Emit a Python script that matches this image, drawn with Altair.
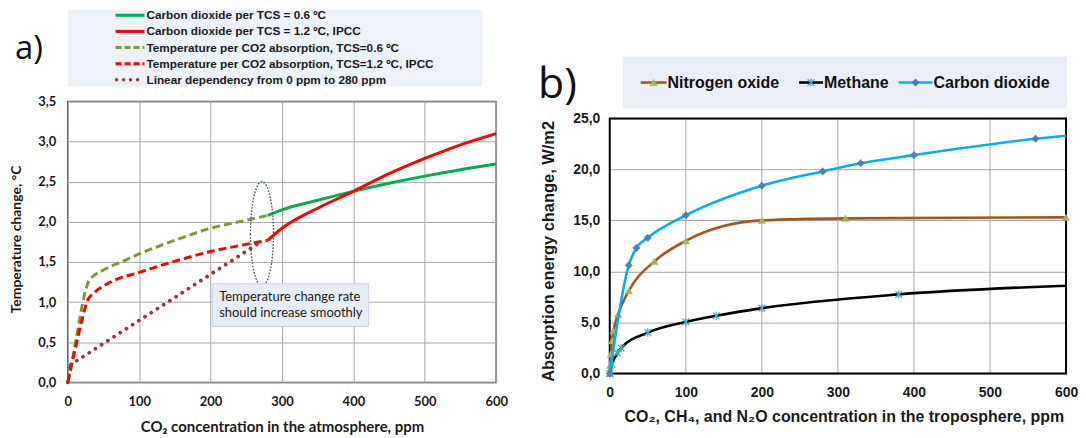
import altair as alt
import pandas as pd

# ---------------- panel a) data ----------------
a_green_dash_x = [0, 10, 20, 25, 30, 50, 75, 100, 150, 200, 250, 280]
a_green_dash_y = [0, 0.45, 0.95, 1.15, 1.27, 1.40, 1.50, 1.60, 1.77, 1.92, 2.02, 2.08]
a_red_dash_x = [0, 10, 20, 28, 35, 60, 100, 150, 200, 250, 280]
a_red_dash_y = [0, 0.40, 0.78, 1.03, 1.10, 1.25, 1.37, 1.51, 1.63, 1.72, 1.77]
a_green_x = [280, 300, 350, 400, 450, 500, 550, 600]
a_green_y = [2.08, 2.15, 2.27, 2.38, 2.48, 2.57, 2.65, 2.72]
a_red_x = [280, 300, 350, 400, 450, 500, 550, 600]
a_red_y = [1.77, 1.92, 2.17, 2.38, 2.60, 2.79, 2.96, 3.10]
a_lin_x = [0, 4, 272]
a_lin_y = [0, 0.22, 1.76]
a_legend_labels = [
    "Carbon dioxide per TCS = 0.6 ºC",
    "Carbon dioxide per TCS = 1.2 ºC, IPCC",
    "Temperature per CO2 absorption, TCS=0.6 ºC",
    "Temperature per CO2 absorption, TCS=1.2 ºC, IPCC",
    "Linear dependency from 0 ppm to 280 ppm",
]
a_note_lines = ["Temperature change rate", "should increase smoothly"]
a_ellipse_x = [272]
a_ellipse_y = [1.85]
a_x_ticks = [0, 100, 200, 300, 400, 500, 600]
a_y_ticks = [0, 0.5, 1.0, 1.5, 2.0, 2.5, 3.0, 3.5]

# ---------------- panel b) data ----------------
n2o_x = [0, 0.5, 1.5, 3, 5, 11, 25, 59, 100, 200, 310, 600]
n2o_y = [0, 0.8, 1.9, 3.2, 4.2, 5.8, 8.1, 11.0, 13.0, 15.0, 15.2, 15.3]
n2o_marker = [True] * 12
ch4_x = [0, 3, 10, 15, 50, 100, 140, 200, 380, 600]
ch4_y = [0, 0.9, 2.0, 2.5, 4.0, 5.05, 5.65, 6.4, 7.75, 8.6]
ch4_marker = [True] * 9 + [False]
co2_x = [0, 25, 35, 50, 100, 200, 280, 330, 400, 560, 600]
co2_y = [0, 10.6, 12.3, 13.3, 15.5, 18.4, 19.8, 20.6, 21.4, 23.0, 23.3]
co2_marker = [True] * 10 + [False]
b_legend_labels = ["Nitrogen oxide", "Methane", "Carbon dioxide"]
b_x_ticks = [0, 100, 200, 300, 400, 500, 600]
b_y_ticks = [0, 5, 10, 15, 20, 25]
b_y_top = 25

FA = "Lato"
FB = "Liberation Sans"
W1, H1 = 430, 282
W2, H2 = 458, 273          # plot-area; visible frame of b) spans its lowest 256 px
B_FRAME = 256
B_YMAX = b_y_top * H2 / B_FRAME
ONE = alt.Data(values=[{}])
comma = "replace(format(datum.value, '.1f'), '.', ',')"


def frame(xs, ys, flags=None):
    d = pd.DataFrame({"x": xs, "y": ys})
    if flags is not None:
        d = d[pd.Series(flags).values]
    return d


# ---------------- panel a ----------------
ax_x = alt.X("x:Q", scale=alt.Scale(domain=[0, 600], nice=False, zero=False),
             axis=alt.Axis(values=a_x_ticks, grid=True, gridColor="#A6A6A6", gridWidth=1,
                           domain=False, ticks=False, labelFlush=False,
                           labelFont=FA, labelFontSize=13, labelFontWeight="bold",
                           labelColor="#1a1a1a", labelPadding=13,
                           title="CO₂ concentration in the atmosphere, ppm",
                           titleFont=FA, titleFontSize=15, titleFontWeight="bold",
                           titleColor="#1a1a1a", titleY=44, titleBaseline="middle"))
ax_y = alt.Y("y:Q", scale=alt.Scale(domain=[0, 3.5], nice=False, zero=False),
             axis=alt.Axis(values=a_y_ticks, grid=True, gridColor="#A6A6A6", gridWidth=1,
                           domain=False, ticks=False, labelFlush=False, labelExpr=comma,
                           labelFont=FA, labelFontSize=13, labelFontWeight="bold",
                           labelColor="#1a1a1a", labelPadding=12,
                           title="Temperature change, °C",
                           titleFont=FA, titleFontSize=14, titleFontWeight="bold",
                           titleColor="#1a1a1a", titleX=-51, titleY=H1 / 2 - 3,
                           titleBaseline="middle"))


def aline(xs, ys, color, dash=None, width=3, cap="butt"):
    kw = dict(color=color, strokeWidth=width, interpolate="monotone", strokeCap=cap, clip=False)
    if dash:
        kw["strokeDash"] = dash
    return alt.Chart(frame(xs, ys)).mark_line(**kw).encode(x=ax_x, y=ax_y)


a_styles = [
    dict(color="#00B050", dash=None, width=3, cap="butt"),
    dict(color="#FF0000", dash=None, width=3, cap="butt"),
    dict(color="#7A9A3A", dash=[8, 4], width=3, cap="butt"),
    dict(color="#FF0000", dash=[8, 4], width=3, cap="butt"),
    dict(color="#953735", dash=[0.01, 7.4], width=3.8, cap="round"),
]

a_layers = []
# anchors (invisible) fixing panel bounds
a_layers.append(alt.Chart(ONE).mark_rect(opacity=0).encode(
    x=alt.value(-59), x2=alt.value(-58), y=alt.value(-92), y2=alt.value(-91)))
a_layers.append(alt.Chart(ONE).mark_rect(opacity=0).encode(
    x=alt.value(W1 + 13), x2=alt.value(W1 + 14), y=alt.value(0), y2=alt.value(1)))

a_layers.append(aline(a_green_dash_x, a_green_dash_y, **a_styles[2]))
a_layers.append(aline(a_red_dash_x, a_red_dash_y, **a_styles[3]))

# dotted linear dependency drawn as straight segments between its points
lin = pd.DataFrame({"x": a_lin_x[:-1], "y": a_lin_y[:-1],
                    "x2": a_lin_x[1:], "y2": a_lin_y[1:]})
st = a_styles[4]
a_layers.append(alt.Chart(lin).mark_rule(
    color=st["color"], strokeWidth=st["width"], strokeCap="round",
    strokeDash=st["dash"]).encode(x=ax_x, y=ax_y, x2="x2:Q", y2="y2:Q"))

a_layers.append(aline(a_green_x, a_green_y, **a_styles[0]))
a_layers.append(aline(a_red_x, a_red_y, **a_styles[1]))

# dotted ellipse
ell = "M -0.22 0 A 0.22 1 0 1 0 0.22 0 A 0.22 1 0 1 0 -0.22 0 Z"
a_layers.append(alt.Chart(frame(a_ellipse_x, a_ellipse_y)).mark_point(
    shape=ell, size=105 * 105, filled=False, stroke="#44546A", strokeWidth=1.4,
    strokeDash=[1.6, 1.6], opacity=1).encode(x=ax_x, y=ax_y))

# annotation box
a_layers.append(alt.Chart(ONE).mark_rect(fill="#E9EEF6", stroke="#C9D3E3", strokeWidth=1).encode(
    x=alt.value(145), x2=alt.value(302), y=alt.value(183), y2=alt.value(226)))
for i, t in enumerate(a_note_lines):
    a_layers.append(alt.Chart(ONE).mark_text(
        text=t, font=FA, fontSize=13, color="#1a1a1a", align="left", baseline="middle").encode(
        x=alt.value(152), y=alt.value(196 + i * 16)))

# legend a
a_layers.append(alt.Chart(ONE).mark_rect(fill="#EDF1F8").encode(
    x=alt.value(0), x2=alt.value(416), y=alt.value(-92), y2=alt.value(-15)))
for i, (lab, sty) in enumerate(zip(a_legend_labels, a_styles)):
    yy = -86.5 + i * 16.2
    kw = dict(color=sty["color"], strokeWidth=min(sty["width"], 3.5), strokeCap=sty["cap"])
    if sty["dash"]:
        kw["strokeDash"] = [6, 3] if sty["cap"] == "butt" else [0.01, 7]
    a_layers.append(alt.Chart(ONE).mark_rule(**kw).encode(
        x=alt.value(48 if sty["cap"] == "butt" else 49), x2=alt.value(77), y=alt.value(yy)))
    a_layers.append(alt.Chart(ONE).mark_text(
        text=lab, font=FB, fontSize=11.8, fontWeight="bold", color="#1a1a1a",
        align="left", baseline="middle").encode(x=alt.value(79), y=alt.value(yy)))

a_layers.append(alt.Chart(ONE).mark_text(
    text="a)", font="Open Sans", fontSize=33, color="#111111", align="left",
    baseline="alphabetic").encode(x=alt.value(-53), y=alt.value(-43)))

panel_a = alt.layer(*a_layers).properties(
    width=W1, height=H1, view=alt.ViewBackground(stroke="#595959", strokeWidth=1.5))

# ---------------- panel b ----------------
bx = alt.X("x:Q", scale=alt.Scale(domain=[0, 600], nice=False, zero=False),
           axis=alt.Axis(values=b_x_ticks, grid=False, domain=False, ticks=False,
                         labelFlush=False,
                         labelFont=FB, labelFontSize=14, labelFontWeight="bold",
                         labelColor="#1a1a1a", labelPadding=12,
                         title="CO₂, CH₄, and N₂O concentration in the troposphere, ppm",
                         titleFont=FB, titleFontSize=16, titleFontWeight="bold",
                         titleColor="#1a1a1a", titleX=W2 / 2 + 6, titleY=43,
                         titleBaseline="middle"))
by = alt.Y("y:Q", scale=alt.Scale(domain=[0, B_YMAX], nice=False, zero=False),
           axis=alt.Axis(values=b_y_ticks, grid=True, gridColor="#A6A6A6", gridWidth=1,
                         domain=False, ticks=False, labelFlush=False, labelExpr=comma,
                         labelFont=FB, labelFontSize=14, labelFontWeight="bold",
                         labelColor="#1a1a1a", labelPadding=10,
                         title="Absorption energy change, W/m2",
                         titleFont=FB, titleFontSize=16.5, titleFontWeight="bold",
                         titleColor="#1a1a1a", titleX=-61,
                         titleY=H2 - B_FRAME / 2 + 5, titleBaseline="middle"))

star = "M -1 -1 L 1 1 M -1 1 L 1 -1 M 0 -1.2 L 0 1.2"
b_series = [
    dict(x=n2o_x, y=n2o_y, m=n2o_marker, line="#A5561E", shape="triangle-up",
         mfill="#9BBB59", msize=55, filled=True),
    dict(x=ch4_x, y=ch4_y, m=ch4_marker, line="#000000", shape=star,
         mfill="#4BACC6", msize=45, filled=False),
    dict(x=co2_x, y=co2_y, m=co2_marker, line="#00B0F0", shape="diamond",
         mfill="#4A7EBB", msize=55, filled=True),
]


def marker_kw(s):
    if s["filled"]:
        return dict(shape=s["shape"], size=s["msize"], filled=True, fill=s["mfill"],
                    stroke=s["mfill"], strokeWidth=0.5, opacity=1)
    return dict(shape=s["shape"], size=s["msize"], filled=False, stroke=s["mfill"],
                strokeWidth=1.3, opacity=1)


b_layers = []
b_layers.append(alt.Chart(ONE).mark_rect(opacity=0).encode(
    x=alt.value(-72), x2=alt.value(-71), y=alt.value(0), y2=alt.value(1)))
# vertical grid lines and frame limited to the visible frame
b_layers.append(alt.Chart(pd.DataFrame({"x": b_x_ticks[1:-1]})).mark_rule(
    color="#A6A6A6", strokeWidth=1).encode(x=bx, y=alt.datum(0), y2=alt.datum(b_y_top)))
b_layers.append(alt.Chart(ONE).mark_rect(fillOpacity=0, stroke="#000000", strokeWidth=2).encode(
    x=alt.datum(0, type="quantitative"), x2=alt.datum(600),
    y=alt.datum(0, type="quantitative"), y2=alt.datum(b_y_top)))
for s in b_series:
    b_layers.append(alt.Chart(frame(s["x"], s["y"])).mark_line(
        color=s["line"], strokeWidth=2.6, interpolate="monotone", clip=False).encode(x=bx, y=by))
    b_layers.append(alt.Chart(frame(s["x"], s["y"], s["m"])).mark_point(
        **marker_kw(s)).encode(x=bx, y=by))

# legend b  (relative to plot-area top at page y=100)
b_layers.append(alt.Chart(ONE).mark_rect(fill="#EAEFF7").encode(
    x=alt.value(13), x2=alt.value(459), y=alt.value(-45), y2=alt.value(7)))
b_leg_x = [31, 190, 290]
b_leg_w = [26, 24, 34]
for lab, s, lx, lw in zip(b_legend_labels, b_series, b_leg_x, b_leg_w):
    b_layers.append(alt.Chart(ONE).mark_rule(color=s["line"], strokeWidth=2.6).encode(
        x=alt.value(lx), x2=alt.value(lx + lw), y=alt.value(-19)))
    b_layers.append(alt.Chart(ONE).mark_point(**marker_kw(s)).encode(
        x=alt.value(lx + lw / 2), y=alt.value(-19)))
    b_layers.append(alt.Chart(ONE).mark_text(
        text=lab, font=FB, fontSize=16, fontWeight="bold", color="#111111",
        align="left", baseline="middle").encode(x=alt.value(lx + lw + 1), y=alt.value(-19)))

b_layers.append(alt.Chart(ONE).mark_text(
    text="b)", font="Open Sans", fontSize=43, color="#111111", align="left",
    baseline="alphabetic").encode(x=alt.value(-72), y=alt.value(-3)))

panel_b = alt.layer(*b_layers).properties(
    width=W2, height=H2, view=alt.ViewBackground(stroke="transparent", strokeWidth=0))

chart = alt.hconcat(panel_a, panel_b, spacing=27).properties(
    padding=0, background="white")

chart.save("out.html", embed_options={"renderer": "svg", "actions": False})
